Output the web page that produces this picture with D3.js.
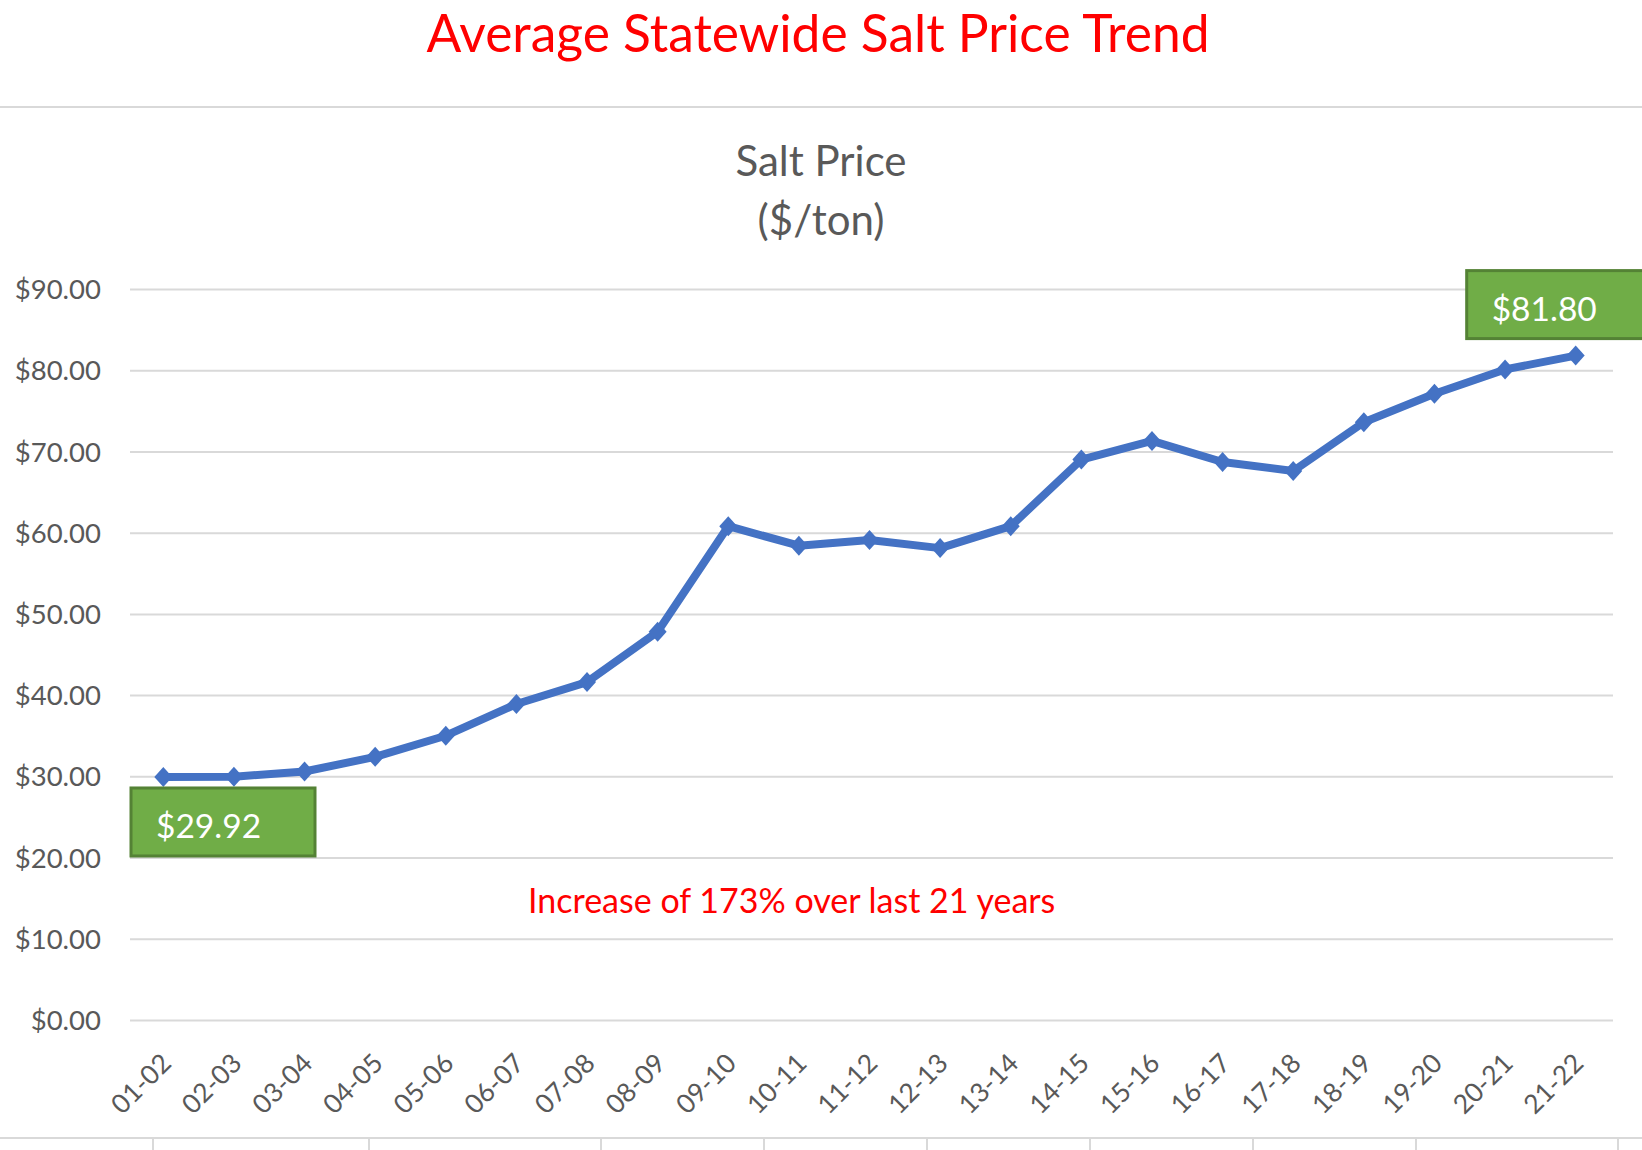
<!DOCTYPE html>
<html>
<head>
<meta charset="utf-8">
<script src="https://cdn.jsdelivr.net/npm/d3@7"></script>
<style>
  html, body { margin: 0; padding: 0; background: #ffffff; }
  svg { display: block; }
  text { font-family: "Lato", "Open Sans", sans-serif; }
</style>
</head>
<body>
<svg id="chart" width="1642" height="1150"></svg>
<script>
// ---- data ----
const categories = ["01-02","02-03","03-04","04-05","05-06","06-07","07-08","08-09","09-10","10-11","11-12","12-13","13-14","14-15","15-16","16-17","17-18","18-19","19-20","20-21","21-22"];
const prices = [29.92, 29.96, 30.6, 32.4, 35.0, 38.9, 41.6, 47.8, 60.8, 58.4, 59.1, 58.1, 60.8, 69.0, 71.3, 68.7, 67.6, 73.6, 77.1, 80.1, 81.80];
const yTicks = [0, 10, 20, 30, 40, 50, 60, 70, 80, 90];
const mainTitle = "Average Statewide Salt Price Trend";
const chartTitle = ["Salt Price", "($/ton)"];
const note = "Increase of 173% over last 21 years";
const startLabel = "$29.92";
const endLabel = "$81.80";

// ---- layout ----
const W = 1642, H = 1150;
const plot = { left: 130, right: 1613, top: 289, bottom: 1020 };

const svg = d3.select("#chart");

const x = d3.scalePoint().domain(categories).range([plot.left - 2, plot.right - 2]).padding(0.5);
const y = d3.scaleLinear().domain([0, 90]).range([plot.bottom, plot.top]);

// top header
svg.append("text")
  .attr("x", 818).attr("y", 52)
  .attr("text-anchor", "middle")
  .attr("fill", "#ff0000")
  .attr("font-size", 51.5)
  .text(mainTitle);

svg.append("line")
  .attr("x1", 0).attr("x2", W).attr("y1", 107).attr("y2", 107)
  .attr("stroke", "#d9d9d9").attr("stroke-width", 2);

// chart title
svg.append("text")
  .attr("x", 821).attr("y", 176)
  .attr("text-anchor", "middle")
  .attr("fill", "#595959")
  .attr("font-size", 42)
  .text(chartTitle[0]);
svg.append("text")
  .attr("x", 821).attr("y", 235)
  .attr("text-anchor", "middle")
  .attr("fill", "#595959")
  .attr("font-size", 42)
  .text(chartTitle[1]);

// y axis with gridlines
const yAxis = svg.append("g")
  .attr("transform", `translate(${plot.left},0)`)
  .call(d3.axisLeft(y)
    .tickValues(yTicks)
    .tickSize(-(plot.right - plot.left))
    .tickPadding(29)
    .tickFormat(d => "$" + d3.format(".2f")(d)));
yAxis.select(".domain").remove();
yAxis.selectAll(".tick line").attr("stroke", "#d9d9d9").attr("stroke-width", 2);
yAxis.selectAll(".tick text")
  .attr("fill", "#595959")
  .attr("font-size", 27.5)
  .attr("font-family", "Lato")
  .attr("dy", "0.35em");

// x axis labels
const xAxis = svg.append("g")
  .attr("transform", `translate(0,${plot.bottom})`)
  .call(d3.axisBottom(x).tickSize(0).tickPadding(0));
xAxis.select(".domain").remove();
xAxis.selectAll(".tick text")
  .attr("fill", "#595959")
  .attr("font-size", 26.5)
  .attr("font-family", "Lato")
  .attr("text-anchor", "end")
  .attr("dy", 0)
  .attr("transform", "translate(9,45) rotate(-45)");

// line
const line = d3.line().x((d, i) => x(categories[i])).y(d => y(d));
svg.append("path")
  .datum(prices)
  .attr("fill", "none")
  .attr("stroke", "#4472c4")
  .attr("stroke-width", 8)
  .attr("stroke-linejoin", "round")
  .attr("d", line);

// diamond markers
const diamond = "M0,-10L9,0L0,10L-9,0Z";
svg.append("g").selectAll("path")
  .data(prices)
  .join("path")
  .attr("transform", (d, i) => `translate(${x(categories[i])},${y(d)})`)
  .attr("d", diamond)
  .attr("fill", "#4472c4");

// data label boxes
function labelBox(bx, by, txt) {
  const g = svg.append("g");
  g.append("rect")
    .attr("x", bx).attr("y", by)
    .attr("width", 184).attr("height", 68)
    .attr("fill", "#70ad47")
    .attr("stroke", "#548235").attr("stroke-width", 3);
  g.append("text")
    .attr("x", bx + 25).attr("y", by + 50)
    .attr("fill", "#ffffff")
    .attr("font-size", 33.5)
    .text(txt);
}
const first = prices[0], last = prices[prices.length - 1];
labelBox(plot.left + 1, y(first) + 11, startLabel);
labelBox(x(categories[categories.length - 1]) - 109, y(last) - 85, endLabel);

// annotation
svg.append("text")
  .attr("x", 528).attr("y", 913)
  .attr("fill", "#ff0000")
  .attr("font-size", 34)
  .text(note);

// bottom strip (edge of the next panel)
const bottomTicks = [153, 369, 601, 764, 927, 1090, 1253, 1416, 1618];
svg.append("line")
  .attr("x1", 0).attr("x2", W).attr("y1", 1138).attr("y2", 1138)
  .attr("stroke", "#d9d9d9").attr("stroke-width", 2);
svg.append("g").selectAll("line")
  .data(bottomTicks)
  .join("line")
  .attr("x1", d => d).attr("x2", d => d)
  .attr("y1", 1138).attr("y2", H)
  .attr("stroke", "#d9d9d9").attr("stroke-width", 2);
</script>
</body>
</html>
